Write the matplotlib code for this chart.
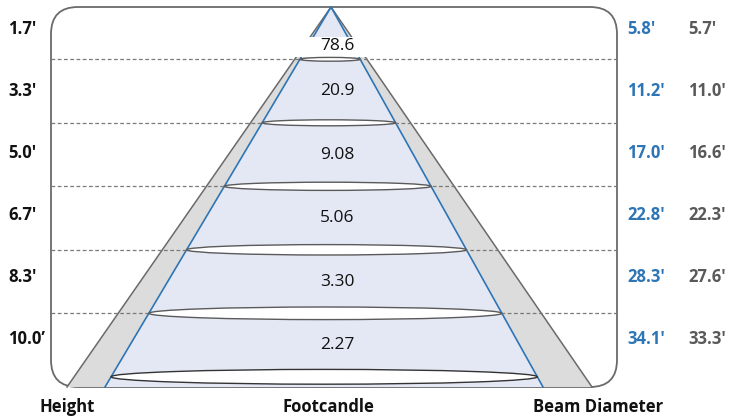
import numpy as np
import matplotlib.pyplot as plt
from matplotlib.patches import Ellipse, Polygon, FancyBboxPatch, Rectangle

plt.rcParams['font.family'] = ['Open Sans', 'DejaVu Sans']

# chart values
heights = ["1.7'", "3.3'", "5.0'", "6.7'", "8.3'", "10.0\u2019"]
footcandles = ["78.6", "20.9", "9.08", "5.06", "3.30", "2.27"]
beam_blue = ["5.8'", "11.2'", "17.0'", "22.8'", "28.3'", "34.1'"]
beam_gray = ["5.7'", "11.0'", "16.6'", "22.3'", "27.6'", "33.3'"]
col_titles = ["Height", "Footcandle", "Beam Diameter"]

BLUE = '#2e75b6'
DGRAY = '#595959'

fig = plt.figure(figsize=(7.29, 4.19), dpi=100)
ax = fig.add_axes([0, 0, 1, 1])
ax.set_xlim(0, 729)
ax.set_ylim(419, 0)
ax.axis('off')

# frame
top, bot, lft, rgt = 7, 387, 51, 617
frame = FancyBboxPatch((lft, top), rgt - lft, bot - top,
                       boxstyle='round,pad=0,rounding_size=27',
                       fc='white', ec='#6a6a6a', lw=1.3, zorder=1)
ax.add_patch(frame)

# cone
apex_x, apex_y = 331, top
base_y = bot
blue_l, blue_r = 105, 543
gray_l, gray_r = 67, 592


def xat(xb, y):
    return apex_x + (xb - apex_x) * (y - apex_y) / (base_y - apex_y)


ax.add_patch(Polygon([(apex_x, apex_y), (gray_l, base_y), (gray_r, base_y)],
                     closed=True, fc='#dcdcdc', ec='none', zorder=2))
ax.add_patch(Polygon([(apex_x, apex_y), (blue_l, base_y), (blue_r, base_y)],
                     closed=True, fc='#e4e8f5', ec='none', zorder=3))
ax.plot([gray_l, apex_x, gray_r], [base_y, apex_y, base_y], color='#6a6a6a', lw=1.1, zorder=4)
ax.plot([blue_l, apex_x, blue_r], [base_y, apex_y, base_y], color=BLUE, lw=1.2, zorder=4)

# level rows
n = len(heights)
row_y = 59.3 + np.arange(n) * 63.5

for i, y in enumerate(row_y):
    if i < n - 1:
        ax.plot([lft, rgt], [y, y], color='#7a7a7a', lw=0.9, ls=(0, (3, 2)), zorder=5)
    x0, x1 = xat(blue_l, y), xat(blue_r, y)
    w = x1 - x0
    ec = '#333333' if i == n - 1 else '#5a5a5a'
    ax.add_patch(Ellipse(((x0 + x1) / 2, y), w, 0.03 * w + 2,
                         fc='white', ec=ec, lw=1.0, zorder=6))

# white gap near the apex for the first value
ax.add_patch(Rectangle((285, 37), 95, 20, fc='white', ec='none', zorder=5))

# footcandle labels
fc_y = [46.5] + list((row_y[:-1] + row_y[1:]) / 2)
for s, y in zip(footcandles, fc_y):
    ax.text(337, y, s, ha='center', va='center', fontsize=12.5, color='#111111', zorder=8)

# side labels
lab_y = 29 + np.arange(n) * 62
for i, y in enumerate(lab_y):
    ax.text(8, y, heights[i], ha='left', va='center', fontsize=12, fontweight='bold', color='#111111')
    ax.text(627, y, beam_blue[i], ha='left', va='center', fontsize=12, fontweight='bold', color=BLUE)
    ax.text(688, y, beam_gray[i], ha='left', va='center', fontsize=12, fontweight='bold', color=DGRAY)

# column titles
for s, x in zip(col_titles, [67, 328, 598]):
    ax.text(x, 407, s, ha='center', va='center', fontsize=12, fontweight='bold', color='#111111')

fig.savefig('out.png', dpi=100)
